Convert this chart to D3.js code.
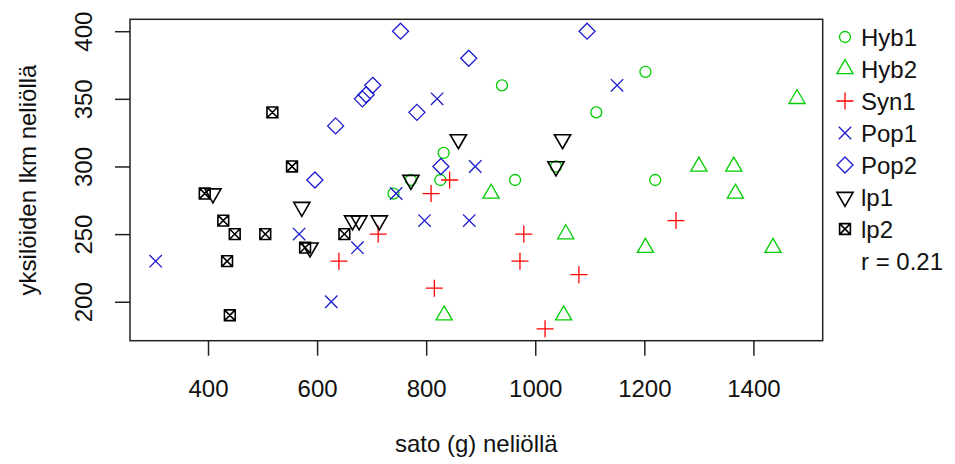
<!DOCTYPE html>
<html>
<head>
<meta charset="utf-8">
<script src="https://cdn.jsdelivr.net/npm/d3@7"></script>
<style>
  body { margin: 0; background: #fff; }
  text { font-family: "Liberation Sans", Arial, sans-serif; fill: #111; }
</style>
</head>
<body>
<div id="chart"></div>
<script>
"use strict";

// data
const groups = ["Hyb1", "Hyb2", "Syn1", "Pop1", "Pop2", "lp1", "lp2"];
const colors = ["#00cd00", "#00cd00", "#ff0000", "#1a1ad0", "#1a1ad0", "#000000", "#000000"];
const symbols = ["circle", "triUp", "plus", "cross", "diamond", "triDown", "boxX"];

const hyb1X = [939, 1202, 1112, 832, 826, 963, 1220, 740, 772, 1038];
const hyb1Y = [360, 370, 340, 310, 290, 290, 290, 280, 290, 300];
const hyb2X = [1480, 1300, 1364, 1367, 919, 1056, 1202, 1436, 833, 1052];
const hyb2Y = [350, 300, 300, 280, 280, 250, 240, 240, 190, 190];
const syn1X = [640, 712, 809, 843, 979, 972, 1080, 815, 1018, 1258];
const syn1Y = [230, 250, 280, 290, 250, 230, 220, 210, 180, 260];
const pop1X = [304, 567, 626, 674, 745, 797, 879, 820, 890, 1150];
const pop1Y = [230, 250, 200, 240, 280, 260, 260, 350, 300, 360];
const pop2X = [753, 878, 683, 690, 702, 783, 634, 596, 827, 1095];
const pop2Y = [400, 380, 350, 353, 360, 340, 330, 290, 300, 400];
const lp1X = [409, 572, 587, 665, 677, 714, 772, 859, 1050, 1038];
const lp1Y = [280, 270, 240, 260, 260, 260, 290, 320, 320, 300];
const lp2X = [518, 554, 394, 428, 449, 505, 435, 440, 578, 650];
const lp2Y = [340, 300, 280, 260, 250, 250, 230, 190, 240, 250];

const xTicks = [400, 600, 800, 1000, 1200, 1400];
const yTicks = [200, 250, 300, 350, 400];
const rLabel = "r = 0.21";

const allX = [hyb1X, hyb2X, syn1X, pop1X, pop2X, lp1X, lp2X];
const allY = [hyb1Y, hyb2Y, syn1Y, pop1Y, pop2Y, lp1Y, lp2Y];

const width = 955;
const height = 464;
const margin = {top: 19.3, right: 132.3, bottom: 123.3, left: 130};
const fontSize = 24;

const points = [];
allX.forEach((xs, g) => {
  xs.forEach((x, i) => points.push({g: g, x: x, y: allY[g][i]}));
});

// R style: extend the data range by 4% each side
const pad = ext => {
  const d = (ext[1] - ext[0]) * 0.04;
  return [ext[0] - d, ext[1] + d];
};

const xScale = d3.scaleLinear()
  .domain(pad(d3.extent(points, d => d.x)))
  .range([margin.left, width - margin.right]);
const yScale = d3.scaleLinear()
  .domain(pad(d3.extent(points, d => d.y)))
  .range([height - margin.bottom, margin.top]);

const svg = d3.select("#chart")
  .append("svg")
  .attr("width", width)
  .attr("height", height);

// pch shapes, RADIUS about 6px
const R = 6;
function symbolPath(type) {
  const t = 1.555 * R, tx = 1.347 * R, ty = 0.778 * R;
  switch (type) {
    case "circle": {
      const r = 5.5;
      return `M${r},0A${r},${r} 0 1,1 ${-r},0A${r},${r} 0 1,1 ${r},0Z`;
    }
    case "triUp": return `M0,${-t}L${tx},${ty}L${-tx},${ty}Z`;
    case "triDown": return `M0,${t}L${tx},${-ty}L${-tx},${-ty}Z`;
    case "plus": {
      const h = 8.5;
      return `M${-h},0H${h}M0,${-h}V${h}`;
    }
    case "cross": {
      const h = 6.2;
      return `M${-h},${-h}L${h},${h}M${-h},${h}L${h},${-h}`;
    }
    case "diamond": {
      const h = 8;
      return `M0,${-h}L${h},0L0,${h}L${-h},0Z`;
    }
    case "boxX": {
      const h = 0.9 * R;
      return `M${-h},${-h}H${h}V${h}H${-h}ZM${-h},${-h}L${h},${h}M${-h},${h}L${h},${-h}`;
    }
  }
  return "";
}
const strokeW = g => (colors[g] === "#000000" ? 1.6 : 1.3);

// axes
const xAxis = d3.axisBottom(xScale).tickValues(xTicks).tickFormat(d3.format("d"))
  .tickSize(15).tickPadding(24);
const yAxis = d3.axisLeft(yScale).tickValues(yTicks).tickFormat(d3.format("d"))
  .tickSize(15);

const xG = svg.append("g")
  .attr("transform", `translate(0, ${height - margin.bottom})`)
  .style("color", "#222")
  .call(xAxis);
xG.select(".domain").remove();
xG.selectAll(".tick line").attr("stroke-width", 1.5);
xG.selectAll(".tick text")
  .style("font-size", fontSize + "px")
  .style("font-family", "Liberation Sans, Arial, sans-serif");

const yG = svg.append("g")
  .attr("transform", `translate(${margin.left}, 0)`)
  .style("color", "#222")
  .call(yAxis);
yG.select(".domain").remove();
yG.selectAll(".tick line").attr("stroke-width", 1.5);
yG.selectAll(".tick text")
  .attr("transform", "rotate(-90)")
  .attr("x", 0)
  .attr("y", -38)
  .attr("dy", 0)
  .attr("text-anchor", "middle")
  .style("font-size", fontSize + "px")
  .style("font-family", "Liberation Sans, Arial, sans-serif");

// plot frame
svg.append("rect")
  .attr("x", margin.left)
  .attr("y", margin.top)
  .attr("width", width - margin.left - margin.right)
  .attr("height", height - margin.top - margin.bottom)
  .attr("fill", "none")
  .attr("stroke", "#222")
  .attr("stroke-width", 1.5);

// points
svg.append("g")
  .selectAll("path")
  .data(points)
  .enter()
  .append("path")
  .attr("transform", d => `translate(${xScale(d.x)}, ${yScale(d.y)})`)
  .attr("d", d => symbolPath(symbols[d.g]))
  .attr("fill", "none")
  .attr("stroke", d => colors[d.g])
  .attr("stroke-width", d => strokeW(d.g));

// axis titles
svg.append("text")
  .attr("x", (margin.left + width - margin.right) / 2)
  .attr("y", 452)
  .attr("text-anchor", "middle")
  .style("font-size", fontSize + "px")
  .text("sato (g) neliöllä");

svg.append("text")
  .attr("transform", `translate(36, ${(margin.top + height - margin.bottom) / 2}) rotate(-90)`)
  .attr("text-anchor", "middle")
  .style("font-size", fontSize + "px")
  .text("yksilöiden lkm neliöllä");

// legend, no box
const legendX = 845;
const legendY = 37;
const legendStep = 32;
const legend = svg.append("g");

legend.selectAll("path")
  .data(groups)
  .enter()
  .append("path")
  .attr("transform", (d, i) => `translate(${legendX}, ${legendY + i * legendStep})`)
  .attr("d", (d, i) => symbolPath(symbols[i]))
  .attr("fill", "none")
  .attr("stroke", (d, i) => colors[i])
  .attr("stroke-width", (d, i) => strokeW(i));

legend.selectAll("text")
  .data(groups.concat([rLabel]))
  .enter()
  .append("text")
  .attr("x", legendX + 16)
  .attr("y", (d, i) => legendY + i * legendStep)
  .attr("dy", "0.36em")
  .style("font-size", fontSize + "px")
  .text(d => d);
</script>
</body>
</html>
